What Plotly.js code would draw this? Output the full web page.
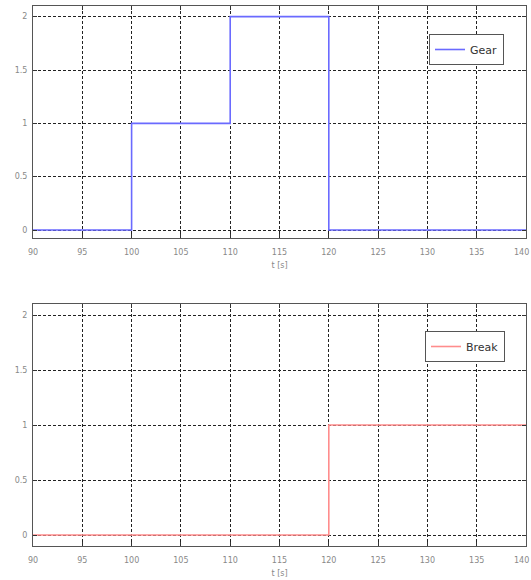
<!DOCTYPE html>
<html><head><meta charset="utf-8">
<script src="https://cdn.plot.ly/plotly-3.0.1.min.js"></script>
<style>html,body{margin:0;padding:0;background:#fff}#c{width:531px;height:580px}</style>
</head><body><div id="c"></div>
<script>
const gearT = [90, 100, 110, 120, 140];
const gearV = [0, 1, 2, 0, 0];
const breakT = [90, 120, 140];
const breakV = [0, 1, 1];
const xTicks = [90, 95, 100, 105, 110, 115, 120, 125, 130, 135, 140];
const yTicks = [0, 0.5, 1, 1.5, 2];
const yTickText = ['0', '0.5', '1', '1.5', '2'];

const traces = [
  {x: gearT, y: gearV, type: 'scatter', mode: 'lines', line: {shape: 'hv', color: '#6a6aff', width: 1.6}, name: 'Gear', xaxis: 'x', yaxis: 'y', legend: 'legend'},
  {x: breakT, y: breakV, type: 'scatter', mode: 'lines', line: {shape: 'hv', color: '#ff8c8c', width: 1.6}, name: 'Break', xaxis: 'x2', yaxis: 'y2', legend: 'legend2'}
];

const W = 531, H = 580;
const lastLabel = String(xTicks[xTicks.length - 1]);
const tickFont = {family: 'DejaVu Sans', size: 8, color: '#888'};
const axX = (anchor) => ({
  range: [90, 140], tickvals: xTicks,
  ticktext: xTicks.map((v, i) => i === xTicks.length - 1 ? '' : String(v)), anchor: anchor,
  domain: [33 / W, 526 / W],
  showgrid: true, gridcolor: '#222', griddash: '3px,2px', gridwidth: 1,
  zeroline: false, showline: true, linecolor: '#555', linewidth: 1, mirror: 'ticks',
  ticks: 'inside', ticklen: 4, tickcolor: '#333',
  ticklabelstandoff: 6,
  tickfont: tickFont,
  title: {text: 't [s]', font: {family: 'DejaVu Sans', size: 8, color: '#888'}, standoff: 6}
});
const axY = (anchor, range, dom) => ({
  range: range, tickvals: yTicks, ticktext: yTickText, anchor: anchor, domain: dom,
  showgrid: true, gridcolor: '#222', griddash: '3px,2px', gridwidth: 1,
  zeroline: false, showline: true, linecolor: '#555', linewidth: 1, mirror: 'ticks',
  ticks: 'inside', ticklen: 4, tickcolor: '#333', ticklabelstandoff: 3,
  tickfont: tickFont
});

const legStyle = {bgcolor: '#fff', bordercolor: '#555', borderwidth: 1,
  font: {family: 'DejaVu Sans', size: 11, color: '#333'}, xanchor: 'right', yanchor: 'top', tracegroupgap: 0};

const edgeLabel = (yref) => ({
  text: lastLabel, xref: 'paper', x: 1, xanchor: 'right', yref: yref, y: 0,
  yanchor: 'top', yshift: -8, showarrow: false, font: tickFont
});

const layout = {
  width: W, height: H, margin: {l: 0, r: 0, t: 0, b: 0},
  paper_bgcolor: '#fff', plot_bgcolor: '#fff',
  showlegend: true,
  xaxis: axX('y'),
  yaxis: axY('x', [-0.075, 2.1], [1 - 238 / H, 1 - 6 / H]),
  xaxis2: axX('y2'),
  yaxis2: axY('x2', [-0.1, 2.1], [1 - 546 / H, 1 - 304 / H]),
  legend: Object.assign({}, legStyle, {x: 504 / W, y: 1 - 34 / H}),
  legend2: Object.assign({}, legStyle, {x: 505 / W, y: 1 - 331 / H}),
  annotations: [edgeLabel('y domain'), edgeLabel('y2 domain')]
};

Plotly.newPlot('c', traces, layout, {displayModeBar: false, staticPlot: true});
</script>
</body></html>
